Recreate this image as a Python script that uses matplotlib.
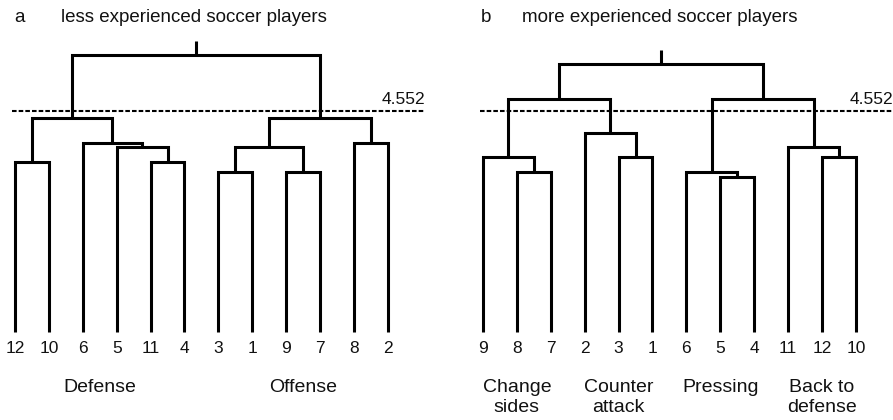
import matplotlib
matplotlib.use("Agg")
import matplotlib.pyplot as plt

plt.rcParams['font.family'] = ['Liberation Sans', 'DejaVu Sans']

# Cut height used to split the trees into clusters
cut_height = 4.552

# Panel a: leaf order and merges (child_a, child_b, height); ids >= 12 are earlier merges
leaves_a = ["12", "10", "6", "5", "11", "4", "3", "1", "9", "7", "8", "2"]
merges_a = [
    (0, 1, 3.50),
    (4, 5, 3.50),
    (3, 13, 3.81),
    (2, 14, 3.895),
    (12, 15, 4.41),
    (6, 7, 3.29),
    (8, 9, 3.29),
    (17, 18, 3.81),
    (10, 11, 3.895),
    (19, 20, 4.41),
    (16, 21, 5.70),
]
groups_a = ["Defense", "Offense"]
group_spans_a = [(0, 5), (6, 11)]
title_a = "less experienced soccer players"

# Panel b
leaves_b = ["9", "8", "7", "2", "3", "1", "6", "5", "4", "11", "12", "10"]
merges_b = [
    (1, 2, 3.29),
    (0, 12, 3.60),
    (4, 5, 3.60),
    (3, 14, 4.09),
    (13, 15, 4.79),
    (7, 8, 3.19),
    (6, 17, 3.29),
    (10, 11, 3.60),
    (9, 19, 3.81),
    (18, 20, 4.79),
    (16, 21, 5.51),
]
groups_b = ["Change\nsides", "Counter\nattack", "Pressing", "Back to\ndefense"]
group_spans_b = [(0, 2), (3, 5), (6, 8), (9, 11)]
title_b = "more experienced soccer players"

W, H = 893, 420
fig = plt.figure(figsize=(W / 100, H / 100), dpi=100)

LW = 2.2
YLIM = (-1.811, 6.831)
TXT = '#111111'


def draw_panel(ax, leaves, merges, groups, spans, letter, title, letter_x, title_x):
    n = len(leaves)
    xs = [float(i) for i in range(n)]
    hs = [0.0] * n
    for a, b, h in merges:
        xa, xb = xs[a], xs[b]
        ax.plot([xa, xa, xb, xb], [hs[a], h, h, hs[b]], color='black', lw=LW,
                solid_joinstyle='miter', solid_capstyle='butt')
        xs.append((xa + xb) / 2)
        hs.append(h)
    # short stem above the root
    ax.plot([xs[-1], xs[-1]], [hs[-1], hs[-1] + 0.29], color='black', lw=LW,
            solid_capstyle='butt')

    # cut line
    ax.plot([-0.08, 12.09], [cut_height, cut_height], color='black', lw=1.5,
            linestyle=(0, (2.2, 1.0)))
    ax.text(12.09, cut_height + 0.07, f"{cut_height:.3f}", ha='right', va='bottom',
            fontsize=12.5, color=TXT)

    # leaf labels
    for i, lab in enumerate(leaves):
        ax.text(i, -0.35, lab, ha='center', va='center', fontsize=12.5, color=TXT)

    # group labels
    for g, (s, e) in zip(groups, spans):
        ax.text((s + e) / 2, -0.975, g, ha='center', va='top', fontsize=14,
                linespacing=1.2, multialignment='center', color=TXT)

    ax.text(letter_x, 6.47, letter, ha='center', va='center', fontsize=13.5, color=TXT)
    ax.text(title_x, 6.47, title, ha='left', va='center', fontsize=13.5, color=TXT)

    ax.set_ylim(*YLIM)
    ax.axis('off')


ax1 = fig.add_axes([0, 0, 440 / W, 1])
ax1.set_xlim(-0.4425, 12.537)
draw_panel(ax1, leaves_a, merges_a, groups_a, group_spans_a, "a", title_a, 0.118, 1.357)

ax2 = fig.add_axes([446 / W, 0, 447 / W, 1])
ax2.set_xlim(-1.091, 12.094)
draw_panel(ax2, leaves_b, merges_b, groups_b, group_spans_b, "b", title_b, 0.088, 1.15)

fig.savefig("out.png", dpi=100)
